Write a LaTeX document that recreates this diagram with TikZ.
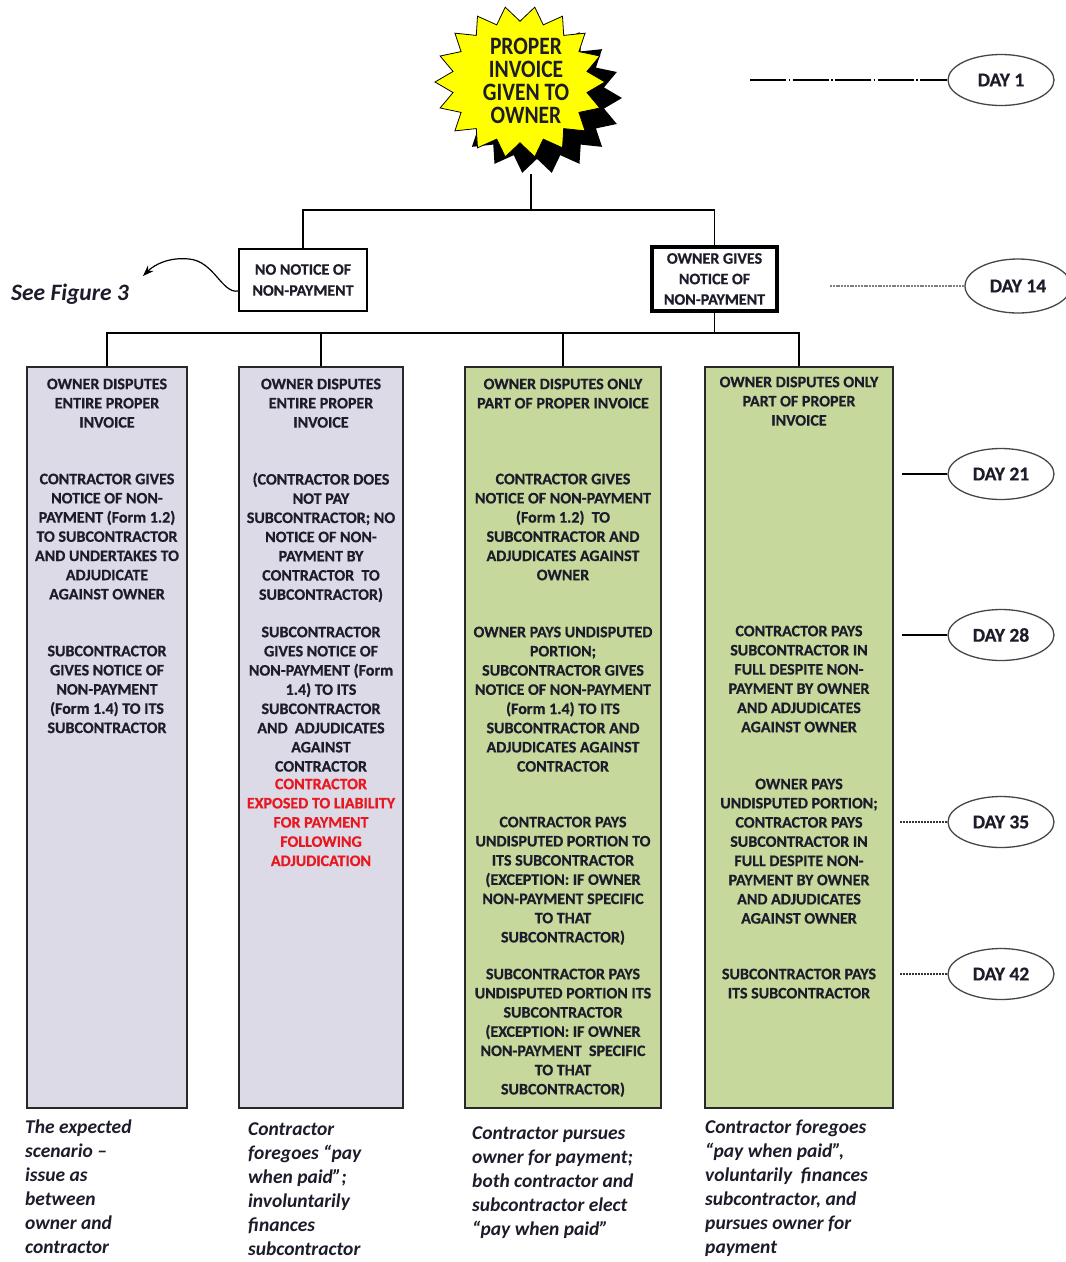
\documentclass[tikz,border=0pt]{standalone}
\usepackage{fontspec}
\setmainfont{Carlito}[BoldFeatures={FakeBold=0.6}]
\newfontfamily\starfont{Carlito}[FakeStretch=0.86]
\usetikzlibrary{shapes.geometric,arrows.meta}
\definecolor{lav}{RGB}{221,218,232}
\definecolor{grn}{RGB}{198,216,156}
\definecolor{txt}{RGB}{28,28,42}
\definecolor{redtxt}{RGB}{232,24,32}
\definecolor{boxline}{RGB}{40,40,40}
\definecolor{ellline}{RGB}{70,70,70}
\definecolor{staryellow}{RGB}{255,255,0}
\begin{document}
\begin{tikzpicture}[x=1pt,y=-1pt,
  conn/.style={draw=black,line width=1.5pt},
  colbox/.style={draw=boxline,line width=1.5pt,rectangle,inner sep=0},
  coltext/.style={font=\bfseries\fontsize{16}{19.2}\selectfont,align=center,inner sep=0,anchor=north,text=txt},
  redtext/.style={coltext,text=redtxt},
  bottext/.style={font=\bfseries\itshape\fontsize{19.5}{24}\selectfont,align=left,inner sep=0,anchor=north west,text=txt},
  dayell/.style={ellipse,draw=ellline,line width=1.3pt,minimum width=106,minimum height=51,inner sep=0,font=\bfseries\fontsize{19.5}{21}\selectfont,text=txt},
  smallbox/.style={draw=black,line width=1.5pt,rectangle,inner sep=0,fill=white,align=center,font=\bfseries\fontsize{16}{21}\selectfont,text=txt},
  solidday/.style={draw=black,line width=1.2pt},
  dotday/.style={draw=black!80,line width=1.2pt,dash pattern=on 2pt off 1pt},
  greyday/.style={draw=black!50,line width=1.4pt,dash pattern=on 2pt off 0.8pt},
  dashdotday/.style={draw=black,line width=1.3pt,dash pattern=on 36pt off 2.5pt on 1.5pt off 2.5pt}
]
\useasboundingbox (0,0) rectangle (1066,1262);
\fill[white] (0,0) rectangle (1066,1262);

% ---- star with shadow
\fill[black,shift={(17,16)}] (605,82) \foreach \i [evaluate=\i as \r using {mod(\i,2)==0?1:0.8}] in {1,...,35} { -- ({520+85*\r*cos(10*\i)},{82+76*\r*sin(10*\i)}) } -- cycle;
\filldraw[fill=staryellow,draw=black,line width=0.8pt] (605,82) \foreach \i [evaluate=\i as \r using {mod(\i,2)==0?1:0.8}] in {1,...,35} { -- ({520+85*\r*cos(10*\i)},{82+76*\r*sin(10*\i)}) } -- cycle;
\node[font=\starfont\bfseries\fontsize{25}{23.2}\selectfont,align=center,inner sep=0,text=txt] (startext) at (526,81) {PROPER\\INVOICE\\GIVEN TO\\OWNER};
\coordinate (starbot) at (531,174);

% ---- day markers
\node[dayell] (day1) at (1001,80) {DAY 1};
\node[dayell,minimum height=54] (day14) at (1018,286) {DAY 14};
\node[dayell] (day21) at (1001,474) {DAY 21};
\node[dayell] (day28) at (1001,635) {DAY 28};
\node[dayell] (day35) at (1001,822) {DAY 35};
\node[dayell] (day42) at (1001,974) {DAY 42};
\coordinate (l1) at (750,80);
\coordinate (l14) at (830,286);
\coordinate (l21) at (902,474);
\coordinate (l28) at (902,635);
\coordinate (l35) at (900,822);
\coordinate (l42) at (900,974);
\draw[dashdotday] (l1) -- (day1.west);
\draw[greyday] (l14) -- (day14.west);
\draw[solidday] (l21) -- (day21.west);
\draw[solidday] (l28) -- (day28.west);
\draw[dotday] (l35) -- (day35.west);
\draw[dotday] (l42) -- (day42.west);

% ---- second level boxes
\node[smallbox,minimum width=128,minimum height=62] (nn) at (303,280) {NO NOTICE OF\\NON-PAYMENT};
\node[smallbox,line width=4pt,minimum width=125,minimum height=64,font=\bfseries\fontsize{16}{20.5}\selectfont] (og) at (714.5,279) {OWNER GIVES\\NOTICE OF\\NON-PAYMENT};

\coordinate (bar1) at (531,210);
\draw[conn] (starbot) -- (bar1);
\draw[conn] (nn.north) |- (bar1) -| (og.north);

% ---- see figure 3
\node[font=\bfseries\itshape\fontsize{23.5}{25}\selectfont,anchor=west,inner sep=0,text=txt] (seefig) at (11,294) {See Figure 3};
\coordinate (sftip) at (143,276);
\draw[line width=1.2pt,-{Stealth[length=11pt,width=8pt]}] ([yshift=-11pt]nn.west) .. controls (222,294) and (214,261) .. (189,259) .. controls (170,257) and (155,264) .. (sftip);

% ---- columns
\node[colbox,fill=lav,minimum width=160,minimum height=741] (col1) at (107,737.5) {};
\node[colbox,fill=lav,minimum width=164,minimum height=741] (col2) at (321,737.5) {};
\node[colbox,fill=grn,minimum width=196,minimum height=741] (col3) at (563,737.5) {};
\node[colbox,fill=grn,minimum width=188,minimum height=741] (col4) at (799,737.5) {};

\coordinate (bar2) at (714.5,333);
\draw[conn] (og.south) -- (bar2);
\draw[conn] (col1.north) |- (bar2) -| (col4.north);
\draw[conn] (col2.north) -- (col2.north |- bar2);
\draw[conn] (col3.north) -- (col3.north |- bar2);

% ---- column 1 text
\node[coltext] (c1a) at (107,378.5) {OWNER DISPUTES\\ENTIRE PROPER\\INVOICE};
\node[coltext] (c1b) at (107,473.5) {CONTRACTOR GIVES\\NOTICE OF NON-\\PAYMENT (Form 1.2)\\TO SUBCONTRACTOR\\AND UNDERTAKES TO\\ADJUDICATE\\AGAINST OWNER};
\node[coltext] (c1c) at (107,645.5) {SUBCONTRACTOR\\GIVES NOTICE OF\\NON-PAYMENT\\(Form 1.4) TO ITS\\SUBCONTRACTOR};

% ---- column 2 text
\node[coltext] (c2a) at (321,378.5) {OWNER DISPUTES\\ENTIRE PROPER\\INVOICE};
\node[coltext] (c2b) at (321,472.5) {(CONTRACTOR DOES\\NOT PAY\\SUBCONTRACTOR; NO\\NOTICE OF NON-\\PAYMENT BY\\CONTRACTOR~ TO\\SUBCONTRACTOR)};
\node[coltext] (c2c) at (321,626.5) {SUBCONTRACTOR\\GIVES NOTICE OF\\NON-PAYMENT (Form\\1.4) TO ITS\\SUBCONTRACTOR\\AND~ ADJUDICATES\\AGAINST\\CONTRACTOR};
\node[redtext] (c2d) at (321,778.5) {CONTRACTOR\\EXPOSED TO LIABILITY\\FOR PAYMENT\\FOLLOWING\\ADJUDICATION};

% ---- column 3 text
\node[coltext] (c3a) at (563,378.5) {OWNER DISPUTES ONLY\\PART OF PROPER INVOICE};
\node[coltext] (c3b) at (563,473.5) {CONTRACTOR GIVES\\NOTICE OF NON-PAYMENT\\(Form 1.2)~ TO\\SUBCONTRACTOR AND\\ADJUDICATES AGAINST\\OWNER};
\node[coltext] (c3c) at (563,626.5) {OWNER PAYS UNDISPUTED\\PORTION;\\SUBCONTRACTOR GIVES\\NOTICE OF NON-PAYMENT\\(Form 1.4) TO ITS\\SUBCONTRACTOR AND\\ADJUDICATES AGAINST\\CONTRACTOR};
\node[coltext] (c3d) at (563,816.5) {CONTRACTOR PAYS\\UNDISPUTED PORTION TO\\ITS SUBCONTRACTOR\\(EXCEPTION: IF OWNER\\NON-PAYMENT SPECIFIC\\TO THAT\\SUBCONTRACTOR)};
\node[coltext] (c3e) at (563,968.5) {SUBCONTRACTOR PAYS\\UNDISPUTED PORTION ITS\\SUBCONTRACTOR\\(EXCEPTION: IF OWNER\\NON-PAYMENT~ SPECIFIC\\TO THAT\\SUBCONTRACTOR)};

% ---- column 4 text
\node[coltext] (c4a) at (799,376.5) {OWNER DISPUTES ONLY\\PART OF PROPER\\INVOICE};
\node[coltext] (c4b) at (799,625.5) {CONTRACTOR PAYS\\SUBCONTRACTOR IN\\FULL DESPITE NON-\\PAYMENT BY OWNER\\AND ADJUDICATES\\AGAINST OWNER};
\node[coltext] (c4c) at (799,778.5) {OWNER PAYS\\UNDISPUTED PORTION;\\CONTRACTOR PAYS\\SUBCONTRACTOR IN\\FULL DESPITE NON-\\PAYMENT BY OWNER\\AND ADJUDICATES\\AGAINST OWNER};
\node[coltext] (c4d) at (799,968.5) {SUBCONTRACTOR PAYS\\ITS SUBCONTRACTOR};

% ---- bottom captions
\node[bottext] (b1) at (25,1120) {The expected\\scenario –\\issue as\\between\\owner and\\contractor};
\node[bottext] (b2) at (248,1122) {Contractor\\foregoes “pay\\when paid”;\\involuntarily\\finances\\subcontractor};
\node[bottext] (b3) at (472,1126) {Contractor pursues\\owner for payment;\\both contractor and\\subcontractor elect\\“pay when paid”};
\node[bottext] (b4) at (705,1120) {Contractor foregoes\\“pay when paid”,\\voluntarily~ finances\\subcontractor, and\\pursues owner for\\payment};
\end{tikzpicture}
\end{document}
